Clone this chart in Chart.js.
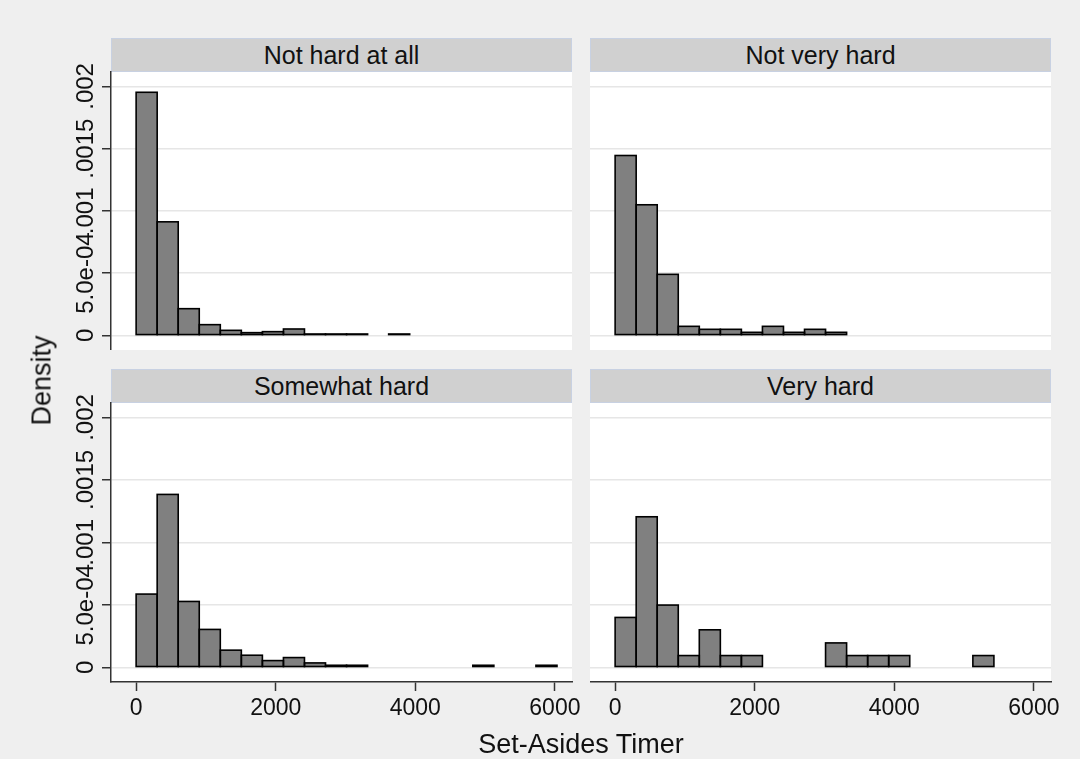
<!DOCTYPE html>
<html>
<head>
<meta charset="utf-8">
<script src="https://cdn.jsdelivr.net/npm/chart.js@4.4.0/dist/chart.umd.min.js"></script>
<style>
  body { margin: 0; background: #ffffff; }
  #wrap { position: relative; width: 1080px; height: 759px; background: #efefef; overflow: hidden;
          font-family: "Liberation Sans", Arial, sans-serif; color: #111; }
  canvas { position: absolute; }
  .strip { position: absolute; height: 34px; background: #d0d0d0; border: 1px solid #c8d1e2;
           box-sizing: border-box; text-align: center; font-size: 25px; line-height: 32px; }
  .ytitle { position: absolute; width: 200px; text-align: center; font-size: 27px; line-height: 27px;
            transform: rotate(-90deg); }
  .xtitle { position: absolute; width: 400px; text-align: center; font-size: 27px; line-height: 27px; }
</style>
</head>
<body>
<div id="wrap">
  <div class="strip" style="left:111px; top:38px; width:461px;">Not hard at all</div>
  <div class="strip" style="left:590px; top:38px; width:461px;">Not very hard</div>
  <div class="strip" style="left:111px; top:369px; width:461px;">Somewhat hard</div>
  <div class="strip" style="left:590px; top:369px; width:461px;">Very hard</div>

  <!-- canvases start 32px above the plot so the rotated top tick label is not cut -->
  <canvas id="c1" width="572" height="310" style="left:0px; top:40px;"></canvas>
  <canvas id="c2" width="461" height="310" style="left:590px; top:40px;"></canvas>
  <canvas id="c3" width="600" height="388" style="left:0px; top:371px;"></canvas>
  <canvas id="c4" width="490" height="388" style="left:590px; top:371px;"></canvas>

  <div class="ytitle" style="left:-58px; top:367px;">Density</div>
  <div class="xtitle" style="left:381px; top:731px;">Set-Asides Timer</div>
</div>

<script>
// histogram bins (same bins in every panel)
var binStart = 0;
var binWidth = 301.5;

// density per bin, null = empty bin
var notHardAtAll = [0.001953, 0.000912, 0.000214, 0.0000856, 0.00004, 0.0000214, 0.0000294,
                    0.0000508, 0.0000107, 0.0000107, 0.0000107, null, 0.0000107];
var notVeryHard = [0.001445, 0.001049, 0.00049, 0.0000722, 0.0000482, 0.0000482, 0.0000241,
                   0.0000722, 0.0000241, 0.0000482, 0.0000241];
var somewhatHard = [0.000586, 0.001384, 0.000527, 0.000303, 0.000137, 0.0000964, 0.0000535,
                    0.0000776, 0.0000348, 0.000016, 0.000016, null, null, null, null, null,
                    0.000016, null, null, 0.000016];
var veryHard = [0.000399, 0.001205, 0.000498, 0.0000937, 0.0003, 0.0000937, 0.0000937,
                null, null, null, 0.000195, 0.0000937, 0.0000937, 0.0000937, null, null, null,
                0.0000937];

// axis ticks
var xTicks = [0, 2000, 4000, 6000];
var yTicks = [0, 0.0005, 0.001, 0.0015, 0.002];
var yTickLabels = ["0", "5.0e-04", ".001", ".0015", ".002"];

var xMin = -360, xMax = 6245;
var yMin = -0.000118, yMax = 0.002116;

// white plot background
var fondoBlanco = {
  id: 'fondoBlanco',
  beforeDraw: function(chart) {
    var a = chart.chartArea, ctx = chart.ctx;
    ctx.save();
    ctx.fillStyle = '#ffffff';
    ctx.fillRect(a.left, a.top, a.right - a.left, a.bottom - a.top);
    ctx.restore();
  }
};

// black outline centred on the bar edges (thin bars end up as black lines)
var bordeBarras = {
  id: 'bordeBarras',
  afterDatasetsDraw: function(chart) {
    var ctx = chart.ctx;
    var meta = chart.getDatasetMeta(0);
    ctx.save();
    ctx.strokeStyle = '#000000';
    ctx.lineWidth = 1.6;
    meta.data.forEach(function(bar) {
      var p = bar.getProps(['x', 'y', 'base', 'width'], true);
      var izq = p.x - p.width / 2;
      var arriba = Math.min(p.y, p.base);
      ctx.strokeRect(izq, arriba, p.width, Math.abs(p.base - p.y));
    });
    ctx.restore();
  }
};

// rotated y tick labels, like Stata draws them
var etiquetasY = {
  id: 'etiquetasY',
  afterDraw: function(chart, args, opts) {
    if (!opts.show) return;
    var ctx = chart.ctx, sc = chart.scales.y;
    ctx.save();
    ctx.font = '24px "Liberation Sans", Arial, sans-serif';
    ctx.fillStyle = '#111';
    ctx.textAlign = 'center';
    ctx.textBaseline = 'alphabetic';
    for (var i = 0; i < yTicks.length; i++) {
      var py = sc.getPixelForValue(yTicks[i]);
      ctx.save();
      ctx.translate(93, py);
      ctx.rotate(-Math.PI / 2);
      ctx.fillText(yTickLabels[i], 0, 0);
      ctx.restore();
    }
    ctx.restore();
  }
};

function armarDatos(valores) {
  var puntos = [];
  for (var i = 0; i < valores.length; i++) {
    if (valores[i] === null) continue;
    puntos.push({ x: binStart + (i + 0.5) * binWidth, y: valores[i] });
  }
  return puntos;
}

function panel(id, valores, conEjeY, conEjeX, padDer) {
  var ctx = document.getElementById(id);
  return new Chart(ctx, {
    type: 'bar',
    data: {
      datasets: [{
        data: armarDatos(valores),
        backgroundColor: '#808080',
        borderWidth: 0,
        inflateAmount: 0,
        barPercentage: 1,
        categoryPercentage: 1
      }]
    },
    options: {
      responsive: false,
      animation: false,
      events: [],
      layout: { padding: { left: 0, right: padDer, top: 32, bottom: 0 } },
      plugins: {
        legend: { display: false },
        tooltip: { enabled: false },
        title: { display: false },
        etiquetasY: { show: conEjeY }
      },
      scales: {
        x: {
          type: 'linear',
          min: xMin,
          max: xMax,
          offset: false,
          display: conEjeX,
          afterBuildTicks: function(s) { s.ticks = xTicks.map(function(v) { return { value: v }; }); },
          afterFit: function(s) { s.height = conEjeX ? 77 : 0; },
          grid: { display: true, offset: false, drawOnChartArea: false, drawTicks: true, tickLength: 9,
                  tickColor: '#333', tickWidth: 1.5 },
          border: { display: true, color: '#333', width: 1.5 },
          ticks: {
            padding: 4,
            color: '#111',
            font: { family: '"Liberation Sans", Arial, sans-serif', size: 23 },
            maxRotation: 0,
            autoSkip: false,
            callback: function(v) { return String(v); }
          }
        },
        y: {
          type: 'linear',
          min: yMin,
          max: yMax,
          afterBuildTicks: function(s) { s.ticks = yTicks.map(function(v) { return { value: v }; }); },
          afterFit: function(s) { s.width = conEjeY ? 111 : 0; },
          grid: { display: true, drawOnChartArea: true, drawTicks: conEjeY, tickLength: 9,
                  color: '#e6e6e6', lineWidth: 1.5, tickColor: '#333', tickWidth: 1.5 },
          border: { display: conEjeY, color: '#333', width: 1.5 },
          ticks: { display: false }
        }
      }
    },
    plugins: [fondoBlanco, bordeBarras, etiquetasY]
  });
}

panel('c1', notHardAtAll, true, false, 0);
panel('c2', notVeryHard, false, false, 0);
panel('c3', somewhatHard, true, true, 28);
panel('c4', veryHard, false, true, 29);
</script>
</body>
</html>
